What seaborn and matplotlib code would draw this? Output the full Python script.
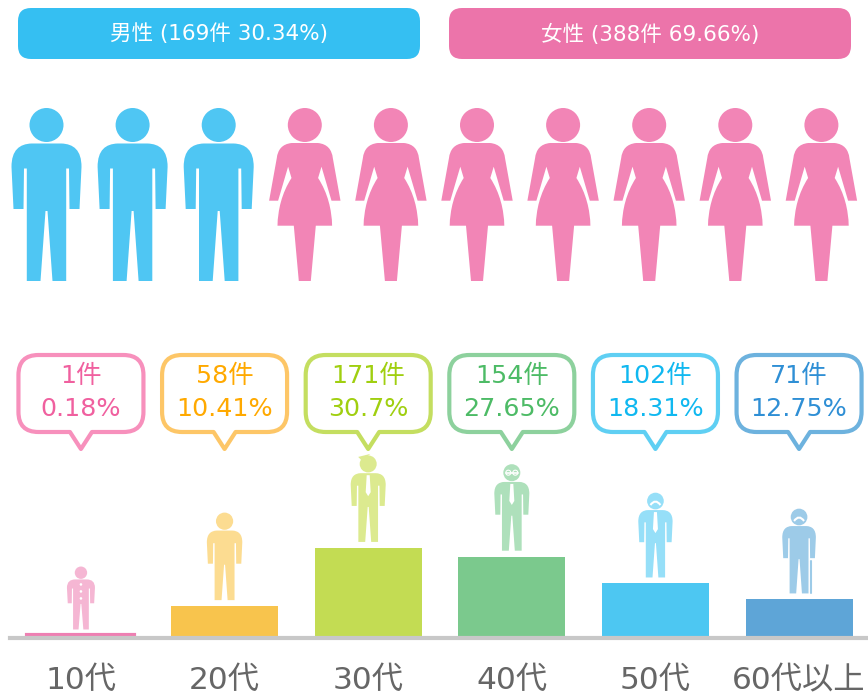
import matplotlib
matplotlib.use('Agg')
import pandas as pd
import seaborn as sns
import matplotlib.pyplot as plt
from matplotlib.path import Path
from matplotlib.patches import PathPatch, Circle, FancyBboxPatch, Polygon

# chart values
ages = ['10代', '20代', '30代', '40代', '50代', '60代以上']
counts = [1, 58, 171, 154, 102, 71]
percents = ['0.18%', '10.41%', '30.7%', '27.65%', '18.31%', '12.75%']
gender_names = ['男性', '女性']
gender_counts = [169, 388]
gender_percents = ['30.34%', '69.66%']
gender_icons = [3, 7]

# colours
bar_colours = ['#ee7fb2', '#f8c44d', '#c3dc53', '#7bc98d', '#4dc7f2', '#5ea5d7']
border_colours = ['#f790bc', '#fdc667', '#c4de60', '#8dd19d', '#5fcff3', '#6db2de']
text_colours = ['#f0609f', '#ffa900', '#a0cf10', '#4dbb66', '#10b8f0', '#2f8fd5']
icon_colours = ['#f5b6d3', '#fcdc91', '#dcea8f', '#aee0bb', '#96dff8', '#9dcbe8']
pill_colours = ['#35bff2', '#ec74aa']
person_colours = ['#4fc6f3', '#f285b6']

sns.set_theme(style='white')
plt.rcParams['font.family'] = ['DejaVu Sans', 'Noto Sans CJK JP']

W, H = 868, 694
BASE_Y = 636
PX_PER_COUNT = 0.515
fig = plt.figure(figsize=(W / 100, H / 100), dpi=100)

# bars
ax = fig.add_axes([10 / W, (H - BASE_Y) / H, 858 / W, 296 / H])
ax.patch.set_alpha(0)
data = pd.DataFrame({'age': ages, 'count': counts})
sns.barplot(data=data, x='age', y='count', hue='age', palette=bar_colours, width=0.745,
            saturation=1, linewidth=0, legend=False, ax=ax)
ax.patches[0].set_edgecolor(bar_colours[0])
ax.patches[0].set_linewidth(3)
ax.set_xlim(-0.494, 5.48)
ax.set_ylim(0, 296 / PX_PER_COUNT)
ax.set_xlabel('')
ax.set_ylabel('')
ax.set_yticks([])
for s in ['top', 'left', 'right']:
    ax.spines[s].set_visible(False)
ax.spines['bottom'].set_position(('outward', 1.5))
ax.spines['bottom'].set_color('#c8c8c8')
ax.spines['bottom'].set_linewidth(3)
ax.tick_params(axis='x', length=0, pad=20, labelsize=22.5, labelcolor='#666666')

# decoration layer in pixel coordinates
deco = fig.add_axes([0, 0, 1, 1], zorder=3)
deco.set_xlim(0, W)
deco.set_ylim(H, 0)
deco.axis('off')

L, C = Path.LINETO, Path.CURVE4
# right half outlines, from the neck down to the middle of the bottom edge
male_half = [(Path.MOVETO, 0, 143.5), (L, 15, 143.5),
             (C, 27, 144), (C, 35, 150), (C, 35, 167),
             (L, 33, 209), (L, 23, 209), (L, 22.5, 168.5),
             (L, 19.7, 168.5), (L, 19.7, 281), (L, 6, 281), (L, 1, 211)]
female_half = [(Path.MOVETO, 0, 143), (L, 13, 143),
               (C, 23, 144), (C, 27, 150), (C, 28, 158),
               (L, 35.7, 200.7), (L, 26.7, 200.7), (L, 16.7, 166.7), (L, 13.3, 178),
               (C, 23, 193), (C, 27, 210), (C, 27.3, 225.7),
               (L, 11, 225.7), (L, 6, 281)]


def mirrored(half):
    # walking back along the outline, each point takes the code of the segment after it
    pts = list(half)
    pts.append((L, -half[-1][1], half[-1][2]))
    for k in range(len(half) - 1, 0, -1):
        pts.append((half[k][0], -half[k - 1][1], half[k - 1][2]))
    pts.append((Path.CLOSEPOLY, 0, half[0][2]))
    return pts


def person(cx, feet, sx, sy, colour, female=False):
    pts = mirrored(female_half if female else male_half)
    verts = [(cx + sx * x, feet - sy * (281 - y)) for _, x, y in pts]
    codes = [c for c, _, _ in pts]
    deco.add_patch(PathPatch(Path(verts, codes), fc=colour, ec='none'))
    head_y = feet - sy * (281 - 125)
    deco.add_patch(Circle((cx, head_y), 17 * sy, fc=colour, ec='none'))
    return head_y


# gender header pills
pill_left = [18, 449]
for i, name in enumerate(gender_names):
    deco.add_patch(FancyBboxPatch((pill_left[i], 8), 402, 51,
                                  boxstyle='round,pad=0,rounding_size=13',
                                  fc=pill_colours[i], ec='none'))
    deco.text(pill_left[i] + 201, 34, f'{name} ({gender_counts[i]}件 {gender_percents[i]})',
              ha='center', va='center', color='white', fontsize=15.5,
              family=['DejaVu Sans', 'Noto Sans CJK JP'])

# row of ten people
k = 0
for g, n in enumerate(gender_icons):
    for _ in range(n):
        person(46.5 + 86.1 * k, 281, 1, 1, person_colours[g], female=g == 1)
        k += 1

# speech bubbles, labels and the small figures on the bars
icon_scale = [(0.40, 0.364), (0.506, 0.506), (0.5, 0.5), (0.5, 0.5), (0.49, 0.49), (0.48, 0.49)]
for i, age in enumerate(ages):
    cx = ax.transData.transform((i, 0))[0]
    bar_top = H - ax.transData.transform((i, counts[i]))[1]
    x0, x1, y0, y1, r = cx - 62.5, cx + 62.5, 355, 432, 20
    c3 = Path.CURVE3
    verts = [(x0 + r, y0), (x1 - r, y0), (x1, y0), (x1, y0 + r), (x1, y1 - r), (x1, y1), (x1 - r, y1),
             (cx + 11, y1), (cx, 449), (cx - 11, y1), (x0 + r, y1), (x0, y1), (x0, y1 - r),
             (x0, y0 + r), (x0, y0), (x0 + r, y0), (x0 + r, y0)]
    codes = [Path.MOVETO, Path.LINETO, c3, c3, Path.LINETO, c3, c3, Path.LINETO, Path.LINETO,
             Path.LINETO, Path.LINETO, c3, c3, Path.LINETO, c3, c3, Path.CLOSEPOLY]
    deco.add_patch(PathPatch(Path(verts, codes), fc='white', ec=border_colours[i], lw=3, joinstyle='round'))
    deco.text(cx, 376, f'{counts[i]}件', ha='center', va='center', color=text_colours[i], fontsize=18.3)
    deco.text(cx, 409, percents[i], ha='center', va='center', color=text_colours[i], fontsize=18.3)

    feet = bar_top - 6
    sx, sy = icon_scale[i]
    head_y = person(cx, feet, sx, sy, icon_colours[i])
    shoulder = feet - sy * (281 - 143.5)
    if i == 0:
        for j in range(3):
            deco.add_patch(Circle((cx, shoulder + 5 + 7 * j), 1.3, fc='white', ec='none'))
    if i in (2, 3, 4):
        deco.add_patch(Polygon([(cx - 1.5, shoulder + 2), (cx + 1.5, shoulder + 2), (cx + 2.5, shoulder + 19),
                                (cx, shoulder + 23), (cx - 2.5, shoulder + 19)], fc='white', ec='none'))
    if i == 2:
        deco.add_patch(Polygon([(cx - 10, head_y - 7), (cx + 2, head_y - 10), (cx - 6, head_y - 3)],
                               fc=icon_colours[i], ec='none'))
    if i == 3:
        deco.plot([cx - 6, cx + 6], [head_y, head_y], color='white', lw=1.2)
        for dx in (-3.5, 3.5):
            deco.add_patch(Circle((cx + dx, head_y), 2.5, fc='none', ec='white', lw=0.8))
    if i in (4, 5):
        deco.add_patch(PathPatch(Path([(cx - 5, head_y + 4), (cx, head_y - 3), (cx + 5, head_y + 4)],
                                      [Path.MOVETO, c3, c3]), fc='none', ec='white', lw=1.5))
    if i == 5:
        deco.plot([cx + 12, cx + 12], [feet - 32, feet], color=icon_colours[i], lw=1.5)

fig.savefig('out.png', dpi=100)
